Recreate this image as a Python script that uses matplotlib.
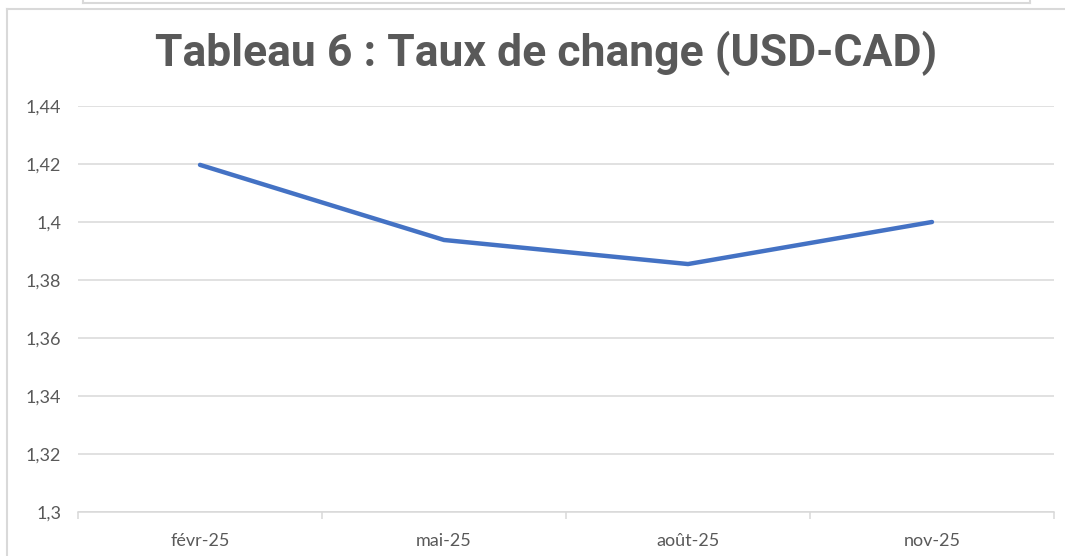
import matplotlib.pyplot as plt
from matplotlib.ticker import FuncFormatter, FixedLocator
from matplotlib.lines import Line2D

# valeurs
mois = ["févr-25", "mai-25", "août-25", "nov-25"]
taux = [1.4197, 1.3938, 1.3855, 1.4000]
graduations = [1.30, 1.32, 1.34, 1.36, 1.38, 1.40, 1.42, 1.44]

gris = "#595959"
grille = "#d9d9d9"

fig = plt.figure(figsize=(10.65, 5.56), dpi=100)
ax = fig.add_axes([78 / 1065, 44 / 556, 976 / 1065, 406 / 556])

x = list(range(len(mois)))
ax.plot(x, taux, color="#4472C4", linewidth=3.2, solid_capstyle="round", solid_joinstyle="round")

ax.set_xlim(-0.5, len(mois) - 0.5)
ax.set_ylim(1.30, 1.44)
ax.set_yticks(graduations)
ax.yaxis.set_major_formatter(FuncFormatter(lambda v, p: f"{v:.2f}".rstrip("0").rstrip(".").replace(".", ",")))
ax.set_xticks(x)
ax.set_xticklabels(mois)
ax.xaxis.set_minor_locator(FixedLocator([i - 0.5 for i in range(len(mois) + 1)]))

ax.grid(axis="y", color=grille, linewidth=1.1)
ax.set_axisbelow(True)
for s in ["top", "right", "left"]:
    ax.spines[s].set_visible(False)
ax.spines["bottom"].set_color(grille)
ax.spines["bottom"].set_linewidth(1.1)

ax.tick_params(axis="y", length=0, pad=12, labelsize=13, labelcolor=gris)
ax.tick_params(axis="x", which="major", length=0, pad=15, labelsize=13, labelcolor=gris)
ax.tick_params(axis="x", which="minor", length=5, color=grille, width=1.1, direction="out")
for lab in ax.get_xticklabels() + ax.get_yticklabels():
    lab.set_family(["Lato", "DejaVu Sans"])

fig.text(546 / 1065, 1 - 53 / 556, "Tableau 6 : Taux de change (USD-CAD)", ha="center", va="center",
         fontsize=32, fontweight="bold", color=gris, family=["Roboto", "DejaVu Sans"])

# cadres autour du graphique
W, H = 1065, 556
def ligne(x0, y0, x1, y1):
    fig.add_artist(Line2D([x0 / W, x1 / W], [1 - y0 / H, 1 - y1 / H], color=grille, linewidth=1.5))

ligne(7, 9, 7, 556)
ligne(7, 9, 1065, 9)
ligne(83, 0, 83, 3)
ligne(83, 3, 1030, 3)
ligne(1030, 0, 1030, 3)

fig.savefig("out.png", dpi=100, facecolor="white")
